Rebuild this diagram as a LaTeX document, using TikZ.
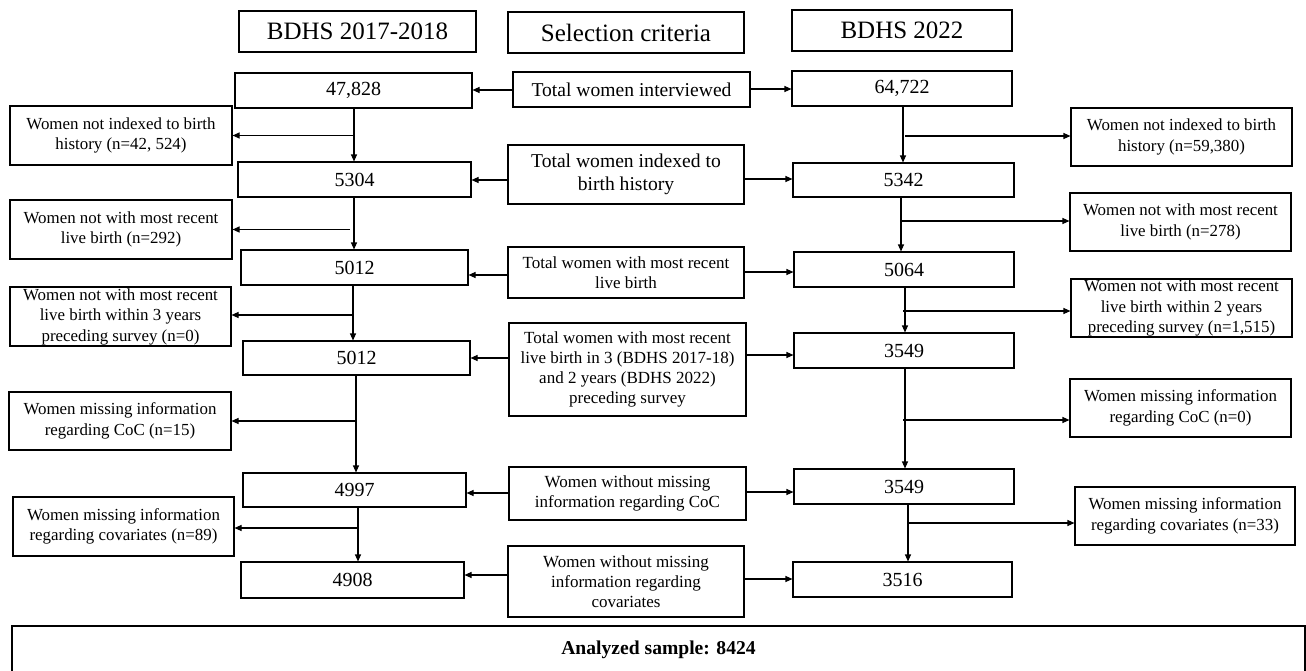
\documentclass[tikz,border=0pt]{standalone}
\usepackage{fontspec}
\setmainfont{Liberation Serif}
\usetikzlibrary{arrows.meta,calc}
\begin{document}
\begin{tikzpicture}[x=1pt,y=-1pt,
  box/.style={draw=black,line width=1.1pt,inner sep=0pt,align=center},
  hdr/.style={box,font=\fontsize{25}{28}\selectfont},
  num/.style={box,font=\fontsize{20}{22}\selectfont},
  side/.style={box,font=\fontsize{16.9}{20.5}\selectfont},
  midbig/.style={box,font=\fontsize{19.6}{23}\selectfont},
  mid/.style={box,font=\fontsize{17}{20}\selectfont},
  arr/.style={line width=1.1pt,-{Triangle[length=7pt,width=6pt]}}]
\useasboundingbox (0,0) rectangle (1306,670);
% headers
\node[hdr,minimum width=237pt,minimum height=41pt] (h1) at (357.5,31.5) {BDHS 2017-2018};
\node[hdr,minimum width=236pt,minimum height=41pt] (h2) at (626,32.5) {Selection criteria};
\node[hdr,minimum width=220pt,minimum height=41pt] (h3) at (902,30.5) {BDHS 2022};
% row 1
\node[num,minimum width=237pt,minimum height=35pt] (a1) at (353.5,90.5) {47,828};
\node[midbig,minimum width=237pt,minimum height=35pt] (m1) at (631.5,89.5) {Total women interviewed};
\node[num,minimum width=220pt,minimum height=35pt] (b1) at (902,88.5) {64,722};
\node[side,minimum width=222pt,minimum height=59pt] (L1) at (121,135.5) {Women not indexed to birth\\history (n=42, 524)};
\node[side,minimum width=221pt,minimum height=58pt] (R1) at (1181.5,137) {Women not indexed to birth\\history (n=59,380)};
% row 2
\node[num,minimum width=233pt,minimum height=35pt] (a2) at (354.5,179.5) {5304};
\node[midbig,minimum width=236pt,minimum height=59pt] (m2) at (626,174.5) {Total women indexed to\\birth history};
\node[num,minimum width=221pt,minimum height=34pt] (b2) at (903.5,180) {5342};
\node[side,minimum width=222pt,minimum height=59pt] (L2) at (121,229.5) {Women not with most recent\\live birth (n=292)};
\node[side,minimum width=221pt,minimum height=58pt] (R2) at (1180.5,222) {Women not with most recent\\live birth (n=278)};
% row 3
\node[num,minimum width=227pt,minimum height=35pt] (a3) at (354.5,267.5) {5012};
\node[mid,minimum width=236pt,minimum height=51pt] (m3) at (626,272.5) {Total women with most recent\\live birth};
\node[num,minimum width=220pt,minimum height=35pt] (b3) at (904,269.5) {5064};
\node[side,minimum width=221pt,minimum height=59pt] (L3) at (120.5,316.5) {Women not with most recent\\live birth within 3 years\\preceding survey (n=0)};
\node[side,minimum width=221pt,minimum height=58pt] (R3) at (1181.5,308) {Women not with most recent\\live birth within 2 years\\preceding survey (n=1,515)};
% row 4
\node[num,minimum width=227pt,minimum height=34pt] (a4) at (356.5,358) {5012};
\node[mid,minimum width=237pt,minimum height=93pt] (m4) at (627.5,369.5) {Total women with most recent\\live birth in 3 (BDHS 2017-18)\\and 2 years (BDHS 2022)\\preceding survey};
\node[num,minimum width=220pt,minimum height=35pt] (b4) at (904,350.5) {3549};
\node[side,minimum width=222pt,minimum height=58pt] (L4) at (120,421) {Women missing information\\regarding CoC (n=15)};
\node[side,minimum width=221pt,minimum height=58pt] (R4) at (1180.5,408) {Women missing information\\regarding CoC (n=0)};
% row 5
\node[num,minimum width=223pt,minimum height=34pt] (a5) at (354.5,490) {4997};
\node[mid,minimum width=237pt,minimum height=53pt] (m5) at (627.5,493.5) {Women without missing\\information regarding CoC};
\node[num,minimum width=220pt,minimum height=35pt] (b5) at (904,486.5) {3549};
\node[side,minimum width=221pt,minimum height=59pt] (L5) at (123.5,526.5) {Women missing information\\regarding covariates (n=89)};
\node[side,minimum width=220pt,minimum height=58pt] (R5) at (1185,516) {Women missing information\\regarding covariates (n=33)};
% row 6
\node[num,minimum width=223pt,minimum height=36pt] (a6) at (352.5,580) {4908};
\node[mid,minimum width=236pt,minimum height=71pt] (m6) at (626,581.5) {Women without missing\\information regarding\\covariates};
\node[num,minimum width=219pt,minimum height=35pt] (b6) at (902.5,579.5) {3516};
% analyzed
\node[box,font=\fontsize{19.6}{22}\selectfont\bfseries,minimum width=1293pt,minimum height=48pt] (an) at (658.5,650) {Analyzed sample: 8424};
% middle -> columns
\draw[arr] (m1.west |- 0,90) -- (a1.east |- 0,90);
\draw[arr] (m1.east |- 0,89) -- (b1.west |- 0,89);
\draw[arr] (m2.west |- 0,180) -- (a2.east |- 0,180);
\draw[arr] (m2.east |- 0,179) -- (b2.west |- 0,179);
\draw[arr] (m3.west |- 0,275) -- (a3.east |- 0,275);
\draw[arr] (m3.east |- 0,272) -- (b3.west |- 0,272);
\draw[arr] (m4.west |- 0,358) -- (a4.east |- 0,358);
\draw[arr] (m4.east |- 0,355) -- (b4.west |- 0,355);
\draw[arr] (m5.west |- 0,493) -- (a5.east |- 0,493);
\draw[arr] (m5.east |- 0,492) -- (b5.west |- 0,492);
\draw[arr] (m6.west |- 0,575) -- (a6.east |- 0,575);
\draw[arr] (m6.east |- 0,579) -- (b6.west |- 0,579);
% left column verticals
\draw[arr] (a1.south -| 354,0) -- (a2.north -| 354,0);
\draw[arr] (a2.south -| 354,0) -- (a3.north -| 354,0);
\draw[arr] (a3.south -| 353,0) -- (a4.north -| 353,0);
\draw[arr] (a4.south -| 356,0) -- (a5.north -| 356,0);
\draw[arr] (a5.south -| 358,0) -- (a6.north -| 358,0);
% left branches
\coordinate (l1) at (354,135.5);
\coordinate (l2) at (350,229.5);
\coordinate (l3) at (352,315);
\coordinate (l4) at (356,421);
\coordinate (l5) at (358,528);
\draw[arr] (l1) -- (l1 -| L1.east);
\draw[arr] (l2) -- (l2 -| L2.east);
\draw[arr] (l3) -- (l3 -| L3.east);
\draw[arr] (l4) -- (l4 -| L4.east);
\draw[arr] (l5) -- (l5 -| L5.east);
% right column verticals
\draw[arr] (b1.south -| 903,0) -- (b2.north -| 903,0);
\draw[arr] (b2.south -| 901,0) -- (b3.north -| 901,0);
\draw[arr] (b3.south -| 905,0) -- (b4.north -| 905,0);
\draw[arr] (b4.south -| 905,0) -- (b5.north -| 905,0);
\draw[arr] (b5.south -| 908,0) -- (b6.north -| 908,0);
% right branches
\coordinate (r1) at (905,136);
\coordinate (r2) at (901,221);
\coordinate (r3) at (903,311);
\coordinate (r4) at (903,420);
\coordinate (r5) at (908,523);
\draw[arr] (r1) -- (r1 -| R1.west);
\draw[arr] (r2) -- (r2 -| R2.west);
\draw[arr] (r3) -- (r3 -| R3.west);
\draw[arr] (r4) -- (r4 -| R4.west);
\draw[arr] (r5) -- (r5 -| R5.west);
\end{tikzpicture}
\end{document}
